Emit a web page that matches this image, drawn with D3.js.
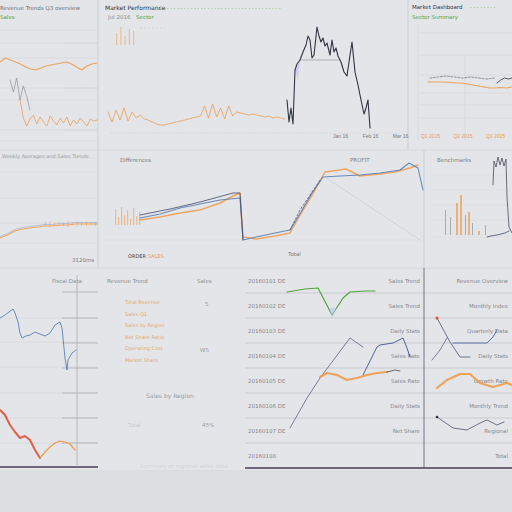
<!DOCTYPE html>
<html><head><meta charset="utf-8">
<script src="https://cdn.jsdelivr.net/npm/d3@7/dist/d3.min.js"></script>
<style>
html,body{margin:0;padding:0;background:#e3e4e7;}
svg{display:block;font-family:"DejaVu Sans",sans-serif;}
</style></head>
<body>
<svg id="c" width="512" height="512"></svg>
<script>
// ---------------- DATA ----------------
// Panel 1 (top-left)
const p1OrangeA = [78,82,80,78,76,73,71,70,72,74,75,76,77,78,76,73,70,74,76,77];
const p1OrangeB = [40,22,14,21,25,16,23,18,14,24,19,15,22,17,23,14,20,16,22,18,14,21,19,20];
const p1Gray = [60,48,62,40,54,44,30];
// Panel 2 (top-middle)
const p2Orange = [23,13,25,15,27,14,23,17,20,16,15,13,11,10,10,11,12,13,14,15,16,17,18,19,29,17,31,18,27,16,29,19,23,22,21,20,21,20,19,18,19,17,18,17,16];
const p2StockDays = [0,2,4,6,8,10,13,16,19,21,23,25,27,30,32,34,36,38,40,43,45,47,49,51,54,57,60,63,65,68,71,74,77,79,81,83];
const p2StockPrice = [30,8,22,6,60,66,70,78,85,94,90,72,75,103,94,88,92,84,87,75,90,78,82,74,68,58,54,75,88,58,45,30,16,22,30,2];
const p2Support = {from:13, to:53, level:70};
const p2SmallBars = [12,18,9,16,14];
// Panel 3 (top-right)
const p3Orange = [58,58,58,58,57.5,57,57,56,55,54,53,52,52,52.5,52,53];
const p3Dark = [62,63,64,63,62,63,62,61,62];
const p3DarkTail = [57,60,62,61,62];
// Panel 4 (mid-left)
const p4Orange = [7,10,14,16,17,18,19,19,20,20,21,21,21,21];
const p4Ticks = [4,5,3,5,4,6,3,5,4,5,3,4];
// Panel 5 (mid-centre)
const p5Blue = [[40,27],[60,31],[80,37],[100,41],[120,45],[140,47],[143,5],[156,8],[175,12],[190,15],[201,33],[212,52],[223,68],[240,69],[260,70],[280,72],[300,75],[309,82],[318,77],[323,55]];
const p5Orange = [[40,25],[60,28],[80,32],[100,35],[120,42],[135,50],[140,52],[143,8],[156,6],[175,9],[190,12],[200,30],[215,55],[225,73],[246,76],[260,69],[280,71],[295,73],[310,77],[318,80]];
const p5DarkA = [[40,30],[70,36],[100,43],[133,52],[140,52],[143,5]];
const p5DarkB = [[190,15],[200,35],[210,50],[220,65]];
const p5Diag = [[225,68],[320,5]];
const p5Bars = [[15,36],[18,28],[21,38],[24,30],[27,35],[30,26],[33,37],[36,29],[39,33]];
// Panel 6 (mid-right)
const p6OrangeBars = [[31,42],[35,50],[43,33],[53,14]];
const p6GrayBars = [[20,35],[25,28],[40,30],[47,22],[60,20]];
const p6DarkLow = [[62,8],[66,9],[72,10],[80,12],[84,14]];
const p6DarkHigh = [[68,60],[69,84],[71,78],[73,88],[75,80],[77,87],[79,79],[81,86],[82,48],[84,18],[87,12]];
// Panel 7 (bottom-left)
const p7Blue = [[0,149],[5,152],[13,158],[15,154],[18,145],[20,134],[22,129],[26,131],[30,132],[35,135],[40,133],[45,131],[50,134],[55,142],[60,145],[62,139],[65,109],[67,97],[68,107],[72,114],[76,117]];
const p7Red = [[0,57],[5,52],[10,42],[15,35],[20,29],[25,31],[30,27],[35,17],[40,9]];
const p7Orange = [[40,9],[45,15],[50,20],[55,24],[60,26],[65,25],[70,23],[75,17]];
// Panel 9 (bottom-right table)
const p9Green = [[42,176],[60,179],[73,180],[87,153],[98,170],[105,176],[120,177],[130,177]];
const p9DarkA = [[45,40],[62,70],[75,90],[90,110],[105,130],[118,121]];
const p9Blue = [[118,93],[132,121],[135,123],[148,125],[158,130],[162,120],[165,111]];
const p9Orange = [[75,91],[82,95],[92,93],[102,88],[112,90],[122,93],[132,95],[142,96]];
const p9OrangeTail = [[142,96],[150,98],[155,97]];
const p9R1 = [[13,150],[26,126],[36,111],[46,111]];
const p9R1b = [[29,125],[63,125],[69,131],[73,138]];
const p9R2 = [[8,108],[16,118],[23,130]];
const p9ROrange = [[13,80],[23,88],[36,94],[46,94],[56,85],[69,81],[83,85],[88,83]];
const p9R3 = [[13,51],[29,40],[43,38],[56,45],[63,48],[73,43],[80,46]];
// Text
const p2AxisLabels = ["Jan 16", "Feb 16", "Mar 16"];
const p3AxisLabels = ["Q1 2015", "Q2 2015", "Q3 2015"];
const p9RowLabels = ["20160101 DE","20160102 DE","20160103 DE","20160104 DE","20160105 DE","20160106 DE","20160107 DE","20160108"];
const p9MidLabels = ["Sales Trend","Sales Trend","Daily Stats","Sales Rate","Sales Rate","Daily Stats","Net Share",""];
const p9RightLabels = ["Revenue Overview","Monthly Index","Quarterly Data","Daily Stats","Growth Rate","Monthly Trend","Regional","Total"];
const p8Rows = ["Total Revenue","Sales Q1","Sales by Region","Net Share Ratio","Operating Cost","Market Share"];

// ---------------- DRAW ----------------
const svg = d3.select("#c");
svg.append("rect").attr("width",512).attr("height",512).attr("fill","#e4e5e8");
svg.append("rect").attr("y",470).attr("width",512).attr("height",42).attr("fill","#dcdde0");

const grid = "#cfd1d5", gridLight = "#d8d9dd";
const ORANGE = "#ee9b4c", BLUE = "#5b7fb8", DARK = "#2f3442", GREEN = "#4fa63b", RED = "#e0503a";

function hlines(ys, x0, x1, color, dash){
  ys.forEach(y=>svg.append("line").attr("x1",x0).attr("x2",x1).attr("y1",y).attr("y2",y)
    .attr("stroke",color||grid).attr("stroke-width",0.8).attr("stroke-dasharray",dash||null));
}
function vline(x, y0, y1, color, w){
  svg.append("line").attr("x1",x).attr("x2",x).attr("y1",y0).attr("y2",y1).attr("stroke",color||grid).attr("stroke-width",w||1);
}
function text(x,y,s,color,size,anchor,weight){
  svg.append("text").attr("x",x).attr("y",y).text(s).attr("fill",color||"#8a8c92")
    .attr("font-size",size||6).attr("text-anchor",anchor||"start").attr("font-weight",weight||"normal");
}
function path(data, xs, ys, color, width, dash, opacity){
  const line = d3.line().x(d=>xs(d[0])).y(d=>ys(d[1]));
  svg.append("path").attr("d",line(data)).attr("fill","none").attr("stroke",color)
    .attr("stroke-width",width||1).attr("stroke-dasharray",dash||null).attr("opacity",opacity==null?1:opacity)
    .attr("stroke-linejoin","round").attr("stroke-linecap","round");
}
const idx = arr => arr.map((v,i)=>[i,v]);

// panel separators
vline(98, 0, 268, "#cbcdd1");
vline(408, 0, 150, "#cbcdd1");
vline(424, 150, 268, "#cbcdd1");
hlines([150], 0, 512, "#d2d4d8");
hlines([268], 0, 512, "#d2d4d8");

// ---- Panel 1 ----
hlines([30,43,58,88,100,130,141], 0, 97, gridLight);
hlines([43,88,130],65,97,grid,"2,1");
text(0,10,"Revenue Trends Q3 overview","#6f7278",5.5);
text(0,19,"Sales",GREEN,5.5);
{
  const ys = d3.scaleLinear().domain([0,115]).range([140,25]);
  path(idx(p1OrangeA), d3.scaleLinear().domain([0,p1OrangeA.length-1]).range([0,97]), ys, ORANGE, 1.2, null, 0.9);
  path(idx(p1OrangeB), d3.scaleLinear().domain([0,p1OrangeB.length-1]).range([20,97]), ys, ORANGE, 0.9, null, 0.85);
  path(idx(p1Gray), d3.scaleLinear().domain([0,p1Gray.length-1]).range([10,30]), ys, "#8c8f96", 0.7);
}

// ---- Panel 2 ----
text(105,10,"Market Performance",DARK,6);
text(160,10,"- - - - - - - - - - - - - - - - - - - - - - - - - - - - - - - - - - - -",GREEN,5);
text(108,19,"Jul 2016",  "#8a8c92",5.5);
text(136,19,"Sector",GREEN,5.5);
hlines([28],140,165,grid,"2,2");
hlines([133],110,400,gridLight,"2,1");
{
  const xb = d3.scaleLinear().domain([0,p2SmallBars.length-1]).range([116,133]);
  p2SmallBars.forEach((v,i)=>svg.append("rect").attr("x",xb(i)).attr("y",45-v).attr("width",1.2).attr("height",v).attr("fill",ORANGE).attr("opacity",0.5));
  const xs = d3.scaleLinear().domain([0,p2Orange.length-1]).range([108,285]);
  const ys = d3.scaleLinear().domain([0,30]).range([135,105]);
  path(idx(p2Orange), xs, ys, ORANGE, 0.9, null, 0.85);
  const xd = d3.scaleLinear().domain([0,85]).range([287,372]);
  const yd = d3.scaleLinear().domain([0,105]).range([130,25]);
  svg.append("path").attr("d",`M${xd(8)},${yd(60)}L${xd(13)},${yd(70)}L${xd(11)},${yd(50)}Z`).attr("fill","#b9b6ee").attr("opacity",0.5);
  path([[p2Support.from,p2Support.level],[p2Support.to,p2Support.level]], xd, yd, "#9a9ca2", 0.7);
  path(p2StockDays.map((d,i)=>[d,p2StockPrice[i]]), xd, yd, DARK, 1.1);
  const ax = d3.axisBottom(d3.scalePoint().domain(p2AxisLabels).range([340,400])).tickSize(0);
  const ga = svg.append("g").attr("transform","translate(0,131)").call(ax);
  ga.select(".domain").remove();
  ga.selectAll("text").attr("font-size",5).attr("fill","#777");
}

// ---- Panel 3 ----
text(412,9,"Market Dashboard",DARK,5.5);
text(412,19,"Sector Summary",GREEN,5.5);
text(470,9,"- - - - - - - -",GREEN,5);
hlines([33,55,75,93,105,118],418,512,gridLight);
vline(418,25,140,gridLight);
vline(465,55,140,gridLight);
{
  const ys = d3.scaleLinear().domain([0,115]).range([140,25]);
  path(idx(p3Orange), d3.scaleLinear().domain([0,p3Orange.length-1]).range([428,512]), ys, ORANGE, 1.2, null, 0.9);
  path(idx(p3Dark), d3.scaleLinear().domain([0,p3Dark.length-1]).range([430,495]), ys, "#6a6e78", 0.7, "2,1.5");
  path(idx(p3DarkTail), d3.scaleLinear().domain([0,p3DarkTail.length-1]).range([497,512]), ys, DARK, 0.8);
  const ax = d3.axisBottom(d3.scalePoint().domain(p3AxisLabels).range([430,495])).tickSize(0);
  const ga = svg.append("g").attr("transform","translate(0,131)").call(ax);
  ga.select(".domain").remove();
  ga.selectAll("text").attr("font-size",5).attr("fill",ORANGE);
}

// ---- Panel 4 ----
hlines([158,172,198,223,243],0,97,gridLight);
text(2,158,"Weekly Averages and Sales Trends","#9a9ca2",5);
{
  const ys = d3.scaleLinear().domain([0,20]).range([245,225]);
  const xs = d3.scaleLinear().domain([0,p4Orange.length-1]).range([0,97]);
  const xt = d3.scaleLinear().domain([0,p4Ticks.length-1]).range([45,95]);
  p4Ticks.forEach((v,i)=>svg.append("rect").attr("x",xt(i)).attr("y",ys(21)-v/2).attr("width",0.8).attr("height",v).attr("fill",ORANGE).attr("opacity",0.6));
  path(idx(p4Orange), xs, ys, ORANGE, 1.1, null, 0.85);
  path(idx(p4Orange).map(d=>[d[0],d[1]+1.5]), xs, ys, "#9aa6c2", 0.6);
}
text(72,262,"3120ms","#7a7c82",5.5);

// ---- Panel 5 ----
text(120,162,"Differences","#7a7c82",5.5);
hlines([240],105,420,gridLight,"1,1");
{
  const xs = d3.scaleLinear().domain([0,325]).range([100,425]);
  const ys = d3.scaleLinear().domain([0,100]).range([245,145]);
  p5Bars.forEach(d=>svg.append("rect").attr("x",xs(d[0])).attr("y",ys(d[1])).attr("width",1.2).attr("height",ys(20)-ys(d[1])).attr("fill",ORANGE).attr("opacity",0.55));
  path(p5Diag, xs, ys, "#c4c6cc", 0.6);
  path(p5Orange, xs, ys, ORANGE, 1.5, null, 0.85);
  path(p5Blue, xs, ys, BLUE, 1.1, null, 0.9);
  path(p5DarkA, xs, ys, "#3d4a6e", 0.8);
  path(p5DarkB, xs, ys, "#3d4a6e", 0.7, "2,2");
}
text(128,258,"ORDER","#3a3e4a",5);
text(148,258,"SALES",ORANGE,5);
text(350,162,"PROFIT","#7a7c82",5.5);
text(288,256,"Total","#7a7c82",5.5);

// ---- Panel 6 ----
text(437,162,"Benchmarks","#7a7c82",5.5);
hlines([175,190,205,220,237],430,510,gridLight,"1,1");
{
  const xs = d3.scaleLinear().domain([0,87]).range([425,512]);
  const ys = d3.scaleLinear().domain([0,100]).range([245,145]);
  p6GrayBars.forEach(d=>svg.append("rect").attr("x",xs(d[0])).attr("y",ys(d[1])).attr("width",0.8).attr("height",ys(10)-ys(d[1])).attr("fill","#9b9ea5"));
  p6OrangeBars.forEach(d=>svg.append("rect").attr("x",xs(d[0])).attr("y",ys(d[1])).attr("width",2).attr("height",ys(10)-ys(d[1])).attr("fill",ORANGE).attr("opacity",0.7));
  path(p6DarkLow, xs, ys, "#3d4a6e", 0.8);
  path(p6DarkHigh, xs, ys, "#4a4e5a", 0.8);
}

// ---- Panel 7 ----
text(52,283,"Fiscal Data","#8a8c92",5.5);
hlines([318,342,367,393,418,443],0,98,gridLight);
hlines([292,318,343,368,393,418,443],62,98,"#a9abb1");
vline(77,275,465,"#a9abb1",0.8);
{
  const xs = d3.scaleLinear().domain([0,98]).range([0,98]);
  const ys = d3.scaleLinear().domain([0,200]).range([467,267]);
  path(p7Blue, xs, ys, BLUE, 0.9);
  path(p7Red, xs, ys, RED, 2, null, 0.9);
  path(p7Orange, xs, ys, ORANGE, 1.2);
}
svg.append("line").attr("x1",0).attr("x2",98).attr("y1",467).attr("y2",467).attr("stroke","#4a3b55").attr("stroke-width",1.3);

// ---- Panel 8 ----
text(107,283,"Revenue Trend","#8a8c92",5.5);
text(197,283,"Sales","#8a8c92",5.5);
{
  const ys = d3.scalePoint().domain(p8Rows).range([304,362]);
  p8Rows.forEach(r=>text(125,ys(r),r,"#e3a86a",5));
}
text(205,306,"5","#9a9ca2",5.5);
text(200,352,"WS","#9a9ca2",5.5);
text(146,398,"Sales by Region","#9a9ca2",6);
text(128,427,"Total","#c8c9cd",5.5);
text(202,427,"45%","#9a9ca2",5.5);
text(140,468,"Summary of regional sales data","#d2d3d6",5.5);

// ---- Panel 9 ----
{
  const rows = d3.scaleBand().domain(p9RowLabels).range([268,468]);
  hlines(p9RowLabels.slice(1).map(r=>rows(r)), 245, 512, "#c3c5ca");
  vline(424,268,468,"#55586a",0.8);
  p9RowLabels.forEach((r,i)=>{
    const y = rows(r)+rows.bandwidth()/2+2;
    text(248,y,r,"#85878d",5.5);
    text(420,y,p9MidLabels[i],"#85878d",5.5,"end");
    text(508,y,p9RightLabels[i],"#85878d",5.5,"end");
  });
  const xs = d3.scaleLinear().domain([0,179]).range([245,424]);
  const ys = d3.scaleLinear().domain([0,200]).range([468,268]);
  path(p9DarkA, xs, ys, "#4a5278", 0.7);
  path(p9Blue, xs, ys, "#3f5592", 0.9);
  path(p9Green, xs, ys, GREEN, 1.2);
  svg.append("path").attr("d",`M${xs(84)},${ys(160)}L${xs(92)},${ys(160)}L${xs(87)},${ys(150)}Z`).attr("fill","#b9c6ee").attr("opacity",0.6);
  path(p9Orange, xs, ys, ORANGE, 2.2, null, 0.9);
  path(p9OrangeTail, xs, ys, DARK, 0.7);
  const xr = d3.scaleLinear().domain([0,88]).range([424,512]);
  path(p9R2, xr, ys, "#4a5278", 0.7);
  path(p9R1, xr, ys, "#4a5278", 0.8);
  path(p9R1b, xr, ys, "#3f5592", 0.8);
  path(p9ROrange, xr, ys, ORANGE, 2.2, null, 0.9);
  path(p9R3, xr, ys, "#4a5278", 0.8);
  svg.append("circle").attr("cx",xr(13)).attr("cy",ys(150)).attr("r",1.5).attr("fill",RED);
  svg.append("circle").attr("cx",xr(13)).attr("cy",ys(51)).attr("r",1.3).attr("fill",DARK);
}
svg.append("line").attr("x1",245).attr("x2",512).attr("y1",468).attr("y2",468).attr("stroke","#4a3b55").attr("stroke-width",1.3);
</script>
</body></html>
